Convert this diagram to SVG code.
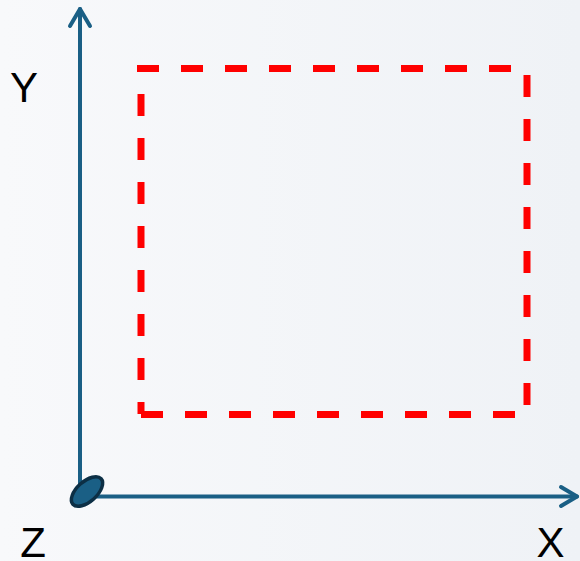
<svg xmlns="http://www.w3.org/2000/svg" width="580" height="561" viewBox="0 0 580 561">
  <defs>
    <linearGradient id="bg" x1="0" y1="0" x2="1" y2="0">
      <stop offset="0" stop-color="#f8f9fb"/>
      <stop offset="1" stop-color="#eff2f6"/>
    </linearGradient>
    <style>
      .axis { stroke: #1a5f85; stroke-width: 4; fill: none; stroke-linecap: round; stroke-linejoin: round; }
      .dash { stroke: #ff0000; stroke-width: 7; fill: none; stroke-dasharray: 22 22; stroke-linecap: butt; }
      .lbl { font-family: "Liberation Sans", Arial, sans-serif; font-size: 42px; fill: #000; text-anchor: middle; }
    </style>
  </defs>
  <rect width="580" height="561" fill="url(#bg)"/>
  <g id="connectors">
    <g id="y-axis">
      <line class="axis" x1="80" y1="9" x2="80" y2="496"/>
      <polyline class="axis" points="70,26 80,9 90,26"/>
    </g>
    <g id="x-axis">
      <line class="axis" x1="80" y1="496.5" x2="577" y2="496.5"/>
      <polyline class="axis" points="561,487 577,496.5 561,506"/>
    </g>
  </g>
  <g id="rectangle">
    <line class="dash" x1="137" y1="68.5" x2="531" y2="68.5"/>
    <line class="dash" x1="527" y1="75" x2="527" y2="418"/>
    <line class="dash" x1="141" y1="414.5" x2="531" y2="414.5"/>
    <line class="dash" x1="141" y1="94" x2="141" y2="414"/>
  </g>
  <g id="origin">
    <ellipse cx="87" cy="491.5" rx="19" ry="10" transform="rotate(-42 87 491.5)" fill="#1a5f85" stroke="#0c2f45" stroke-width="3.5"/>
  </g>
  <g id="labels">
    <text class="lbl" x="24" y="102">Y</text>
    <text class="lbl" x="33" y="557">Z</text>
    <text class="lbl" x="550.5" y="557">X</text>
  </g>
</svg>
